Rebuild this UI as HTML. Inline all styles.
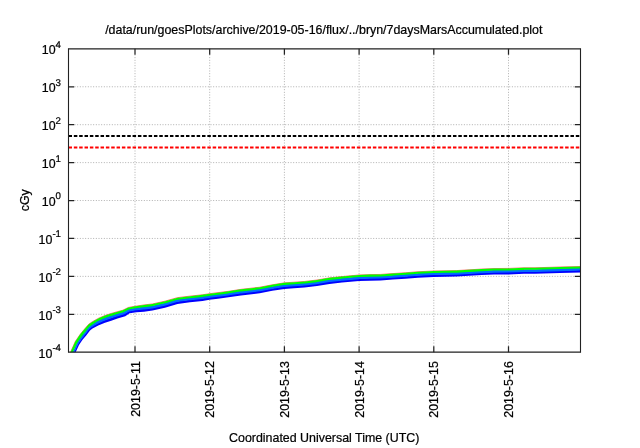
<!DOCTYPE html>
<html><head><meta charset="utf-8"><title>7daysMarsAccumulated</title>
<style>html,body{margin:0;padding:0;background:#fff}svg{display:block}</style></head>
<body>
<svg width="640" height="448" viewBox="0 0 640 448" font-family="'Liberation Sans', Arial, Helvetica, sans-serif" font-size="12.4" fill="#000">
<style>text{stroke:#000;stroke-width:0.22px;paint-order:stroke}</style>
<rect width="640" height="448" fill="#fff"/>
<defs><clipPath id="c"><rect x="68.5" y="48.85" width="512.0" height="303.34999999999997"/></clipPath></defs>
<g stroke="#b0b0b0" stroke-width="1" stroke-dasharray="1 1.667" fill="none">
<path d="M74.5,86.77 H574.5"/>
<path d="M74.5,124.69 H574.5"/>
<path d="M74.5,162.61 H574.5"/>
<path d="M74.5,200.52 H574.5"/>
<path d="M74.5,238.44 H574.5"/>
<path d="M74.5,276.36 H574.5"/>
<path d="M74.5,314.28 H574.5"/>
<path d="M135.00,346.2 V54.85"/>
<path d="M209.70,346.2 V54.85"/>
<path d="M284.40,346.2 V54.85"/>
<path d="M359.10,346.2 V54.85"/>
<path d="M433.80,346.2 V54.85"/>
<path d="M508.50,346.2 V54.85"/>
</g>
<path d="M68.5,136.10 H580.5" stroke="#000" stroke-width="2" stroke-dasharray="3.5 1.84" fill="none"/>
<path d="M68.5,147.52 H580.5" stroke="#ff0000" stroke-width="2" stroke-dasharray="3.5 1.84" fill="none"/>
<g clip-path="url(#c)" stroke="none">
<path d="M66.77,360.50 L70.75,351.65 L73.40,345.75 L75.40,341.35 L76.50,339.75 L80.00,334.60 L83.75,329.95 L88.75,324.20 L92.50,321.64 L98.75,318.15 L105.00,315.53 L111.25,313.45 L117.50,311.66 L122.75,310.26 L128.40,307.45 L135.25,306.28 L144.00,304.94 L152.50,303.94 L165.00,301.17 L177.50,297.63 L190.00,296.13 L202.50,294.79 L209.50,293.73 L218.00,292.64 L228.50,291.31 L241.00,289.35 L259.75,287.21 L272.25,284.83 L284.40,282.84 L294.00,282.23 L304.50,281.47 L317.00,280.02 L329.50,277.86 L342.00,276.58 L359.00,275.01 L370.00,274.61 L380.50,274.44 L393.00,273.57 L405.50,272.75 L418.00,271.75 L433.50,271.00 L446.00,270.75 L456.50,270.58 L469.00,269.83 L481.50,269.08 L494.00,268.56 L508.50,268.41 L524.00,267.82 L535.00,267.79 L560.00,267.02 L580.50,266.48 L586.50,266.33" fill="none" stroke="#ff0000" stroke-width="0.55"/>
<path d="M70.13,360.53 L70.23,360.32 L73.91,352.44 L74.83,350.47 L76.64,346.58 L77.90,343.90 L78.57,342.76 L79.65,341.15 L80.46,339.94 L81.72,338.05 L82.99,336.46 L85.33,333.63 L86.91,331.62 L88.97,328.80 L91.23,326.89 L91.27,326.80 L94.52,324.86 L97.79,322.93 L100.47,321.69 L104.17,320.13 L106.53,319.25 L110.56,317.88 L112.72,317.15 L116.92,315.82 L118.80,315.26 L119.46,315.07 L124.45,313.60 L125.12,313.16 L128.77,310.97 L129.22,310.75 L135.90,309.67 L136.21,309.62 L143.68,308.87 L144.58,308.74 L152.25,307.77 L153.47,307.52 L164.56,305.03 L166.25,304.55 L176.97,301.34 L178.04,301.13 L189.77,299.65 L190.46,299.58 L202.29,298.27 L203.14,298.15 L209.21,297.21 L210.04,297.09 L217.75,296.07 L218.51,295.98 L228.26,294.74 L229.13,294.62 L240.71,292.81 L241.46,292.71 L259.53,290.64 L260.50,290.47 L271.90,288.31 L272.91,288.13 L284.09,286.30 L284.66,286.23 L293.88,285.65 L294.30,285.62 L304.36,284.89 L304.97,284.82 L316.78,283.46 L317.69,283.31 L329.17,281.32 L329.91,281.22 L341.81,280.01 L342.38,279.96 L358.82,278.44 L359.15,278.41 L369.93,278.02 L370.07,278.02 L380.47,277.85 L380.79,277.83 L392.87,276.98 L393.27,276.96 L405.37,276.16 L405.83,276.13 L417.85,275.17 L418.20,275.15 L433.41,274.41 L433.58,274.41 L445.96,274.16 L446.07,274.16 L456.47,273.99 L456.74,273.97 L468.88,273.25 L469.24,273.22 L481.38,272.50 L481.67,272.48 L493.92,271.97 L494.04,271.97 L508.48,271.82 L508.66,271.81 L523.93,271.23 L524.01,271.22 L535.00,271.20 L535.13,271.20 L559.94,270.43 L560.11,270.43 L580.45,269.89 L580.60,269.88 L586.45,269.73 L586.50,269.73 L586.50,272.37 L580.50,272.52 L560.00,273.06 L535.00,273.83 L524.00,273.86 L508.50,274.45 L494.00,274.60 L481.50,275.12 L469.00,275.87 L456.50,276.62 L446.00,276.79 L433.50,277.04 L418.00,277.79 L405.50,278.79 L393.00,279.61 L380.50,280.48 L370.00,280.65 L359.00,281.05 L342.00,282.62 L329.50,283.90 L317.00,286.06 L304.50,287.51 L294.00,288.27 L284.40,288.88 L272.25,290.87 L259.75,293.25 L241.00,295.39 L228.50,297.35 L218.00,298.68 L209.50,299.81 L202.50,300.91 L190.00,302.30 L177.50,303.90 L165.00,307.73 L152.50,310.56 L144.00,311.67 L136.50,312.25 L129.60,313.34 L125.25,316.20 L120.00,317.81 L117.50,318.56 L111.25,320.65 L105.00,322.81 L98.75,325.35 L92.50,328.57 L90.00,330.40 L86.40,335.19 L82.75,339.45 L81.50,341.35 L79.00,345.10 L75.90,351.65 L71.25,361.48Z" fill="#0000ff"/>
<path d="M68.83,360.25 L69.04,359.78 L72.69,351.87 L73.59,349.91 L75.39,345.99 L76.63,343.32 L77.34,341.95 L78.43,340.34 L79.25,339.12 L80.52,337.23 L81.83,335.47 L84.10,332.64 L85.69,330.70 L87.81,327.79 L89.92,325.63 L90.21,325.49 L93.63,323.13 L96.76,321.08 L99.63,319.61 L103.29,318.02 L105.76,317.04 L109.83,315.67 L111.99,314.95 L116.30,313.65 L118.15,313.11 L118.88,312.91 L123.60,311.58 L123.93,311.36 L127.89,309.21 L128.81,308.75 L135.57,307.63 L135.89,307.58 L143.34,306.63 L144.29,306.49 L151.99,305.55 L152.99,305.38 L164.09,302.90 L165.63,302.51 L176.41,299.37 L177.77,299.03 L189.52,297.59 L190.23,297.50 L202.07,296.21 L202.82,296.12 L208.91,295.19 L209.77,295.06 L217.49,294.05 L218.26,293.96 L228.00,292.72 L228.81,292.61 L240.39,290.80 L241.23,290.68 L259.30,288.61 L260.13,288.49 L271.52,286.33 L272.58,286.13 L283.76,284.30 L284.53,284.18 L293.75,283.60 L294.15,283.57 L304.21,282.84 L304.73,282.80 L316.54,281.43 L317.35,281.32 L328.83,279.33 L329.71,279.19 L341.60,277.98 L342.19,277.92 L358.63,276.40 L359.07,276.36 L369.86,275.97 L370.03,275.97 L380.43,275.80 L380.64,275.78 L392.72,274.94 L393.13,274.91 L405.24,274.12 L405.66,274.09 L417.68,273.13 L418.10,273.10 L433.31,272.36 L433.54,272.35 L445.92,272.11 L446.03,272.11 L456.43,271.93 L456.62,271.93 L468.76,271.20 L469.12,271.18 L481.26,270.45 L481.59,270.43 L493.83,269.92 L494.02,269.91 L508.46,269.77 L508.58,269.76 L523.85,269.18 L524.00,269.17 L534.99,269.15 L535.06,269.15 L559.88,268.38 L560.05,268.37 L580.39,267.83 L580.55,267.83 L586.40,267.68 L586.50,267.68 L586.50,270.43 L586.45,270.43 L580.60,270.58 L580.45,270.59 L560.11,271.13 L559.94,271.13 L535.13,271.90 L535.00,271.90 L524.01,271.92 L523.93,271.93 L508.66,272.51 L508.48,272.52 L494.04,272.67 L493.92,272.67 L481.67,273.18 L481.38,273.20 L469.24,273.92 L468.88,273.95 L456.74,274.67 L456.47,274.69 L446.07,274.86 L445.96,274.86 L433.58,275.11 L433.41,275.11 L418.20,275.85 L417.85,275.87 L405.83,276.83 L405.37,276.86 L393.27,277.66 L392.87,277.68 L380.79,278.53 L380.47,278.55 L370.07,278.72 L369.93,278.72 L359.15,279.11 L358.82,279.14 L342.38,280.66 L341.81,280.71 L329.91,281.92 L329.17,282.02 L317.69,284.01 L316.78,284.16 L304.97,285.52 L304.36,285.59 L294.30,286.32 L293.88,286.35 L284.66,286.93 L284.09,287.00 L272.91,288.83 L271.90,289.01 L260.50,291.17 L259.53,291.34 L241.46,293.41 L240.71,293.51 L229.13,295.32 L228.26,295.44 L218.51,296.68 L217.75,296.77 L210.04,297.79 L209.21,297.91 L203.14,298.85 L202.29,298.97 L190.46,300.28 L189.77,300.35 L178.04,301.83 L176.97,302.04 L166.25,305.25 L164.56,305.73 L153.47,308.22 L152.25,308.47 L144.58,309.44 L143.68,309.57 L136.21,310.32 L135.90,310.37 L129.22,311.45 L128.77,311.67 L125.12,313.86 L124.45,314.30 L119.46,315.77 L118.80,315.96 L116.92,316.52 L112.72,317.85 L110.56,318.58 L106.53,319.95 L104.17,320.83 L100.47,322.39 L97.79,323.63 L94.52,325.56 L91.27,327.50 L91.23,327.59 L88.97,329.50 L86.91,332.32 L85.33,334.33 L82.99,337.16 L81.72,338.75 L80.46,340.64 L79.65,341.85 L78.57,343.46 L77.90,344.60 L76.64,347.28 L74.83,351.17 L73.91,353.14 L70.23,361.02 L70.13,361.23Z" fill="#006cff"/>
<path d="M66.77,360.50 L70.75,351.65 L73.40,345.75 L75.40,341.35 L76.50,339.75 L80.00,334.60 L83.75,329.95 L88.75,324.20 L92.50,321.64 L98.75,318.15 L105.00,315.53 L111.25,313.45 L117.50,311.66 L122.75,310.26 L128.40,307.45 L135.25,306.28 L144.00,304.94 L152.50,303.94 L165.00,301.17 L177.50,297.63 L190.00,296.13 L202.50,294.79 L209.50,293.73 L218.00,292.64 L228.50,291.31 L241.00,289.35 L259.75,287.21 L272.25,284.83 L284.40,282.84 L294.00,282.23 L304.50,281.47 L317.00,280.02 L329.50,277.86 L342.00,276.58 L359.00,275.01 L370.00,274.61 L380.50,274.44 L393.00,273.57 L405.50,272.75 L418.00,271.75 L433.50,271.00 L446.00,270.75 L456.50,270.58 L469.00,269.83 L481.50,269.08 L494.00,268.56 L508.50,268.41 L524.00,267.82 L535.00,267.79 L560.00,267.02 L580.50,266.48 L586.50,266.33 L586.50,268.38 L586.40,268.38 L580.55,268.53 L580.39,268.53 L560.05,269.07 L559.88,269.08 L535.06,269.85 L534.99,269.85 L524.00,269.87 L523.85,269.88 L508.58,270.46 L508.46,270.47 L494.02,270.61 L493.83,270.62 L481.59,271.13 L481.26,271.15 L469.12,271.88 L468.76,271.90 L456.62,272.63 L456.43,272.63 L446.03,272.81 L445.92,272.81 L433.54,273.05 L433.31,273.06 L418.10,273.80 L417.68,273.83 L405.66,274.79 L405.24,274.82 L393.13,275.61 L392.72,275.64 L380.64,276.48 L380.43,276.50 L370.03,276.67 L369.86,276.67 L359.07,277.06 L358.63,277.10 L342.19,278.62 L341.60,278.68 L329.71,279.89 L328.83,280.03 L317.35,282.02 L316.54,282.13 L304.73,283.50 L304.21,283.54 L294.15,284.27 L293.75,284.30 L284.53,284.88 L283.76,285.00 L272.58,286.83 L271.52,287.03 L260.13,289.19 L259.30,289.31 L241.23,291.38 L240.39,291.50 L228.81,293.31 L228.00,293.42 L218.26,294.66 L217.49,294.75 L209.77,295.76 L208.91,295.89 L202.82,296.82 L202.07,296.91 L190.23,298.20 L189.52,298.29 L177.77,299.73 L176.41,300.07 L165.63,303.21 L164.09,303.60 L152.99,306.08 L151.99,306.25 L144.29,307.19 L143.34,307.33 L135.89,308.28 L135.57,308.33 L128.81,309.45 L127.89,309.91 L123.93,312.06 L123.60,312.28 L118.88,313.61 L118.15,313.81 L116.30,314.35 L111.99,315.65 L109.83,316.37 L105.76,317.74 L103.29,318.72 L99.63,320.31 L96.76,321.78 L93.63,323.83 L90.21,326.19 L89.92,326.33 L87.81,328.49 L85.69,331.40 L84.10,333.34 L81.83,336.17 L80.52,337.93 L79.25,339.82 L78.43,341.04 L77.34,342.65 L76.63,344.02 L75.39,346.69 L73.59,350.61 L72.69,352.57 L69.04,360.48 L68.83,360.95Z" fill="#00ff00"/>
</g>
<g stroke="#222" stroke-width="1.25" fill="none">
<path d="M67.95,48.85 H581.05 M67.95,352.2 H581.05"/>
<path d="M68.5,48.85 V352.2 M580.5,48.85 V352.2" stroke-width="1.1"/>
<path d="M68.5,86.77 h5.7 M580.5,86.77 h-5.7"/>
<path d="M68.5,124.69 h5.7 M580.5,124.69 h-5.7"/>
<path d="M68.5,162.61 h5.7 M580.5,162.61 h-5.7"/>
<path d="M68.5,200.52 h5.7 M580.5,200.52 h-5.7"/>
<path d="M68.5,238.44 h5.7 M580.5,238.44 h-5.7"/>
<path d="M68.5,276.36 h5.7 M580.5,276.36 h-5.7"/>
<path d="M68.5,314.28 h5.7 M580.5,314.28 h-5.7"/>
<path d="M135.00,352.2 v-5.9 M135.00,48.85 v5.9"/>
<path d="M209.70,352.2 v-5.9 M209.70,48.85 v5.9"/>
<path d="M284.40,352.2 v-5.9 M284.40,48.85 v5.9"/>
<path d="M359.10,352.2 v-5.9 M359.10,48.85 v5.9"/>
<path d="M433.80,352.2 v-5.9 M433.80,48.85 v5.9"/>
<path d="M508.50,352.2 v-5.9 M508.50,48.85 v5.9"/>
</g>
<text x="61" y="54.15" text-anchor="end">10<tspan font-size="9.7" dy="-6.4" style="text-rendering:geometricPrecision">4</tspan></text>
<text x="61" y="92.07" text-anchor="end">10<tspan font-size="9.7" dy="-6.4" style="text-rendering:geometricPrecision">3</tspan></text>
<text x="61" y="129.99" text-anchor="end">10<tspan font-size="9.7" dy="-6.4" style="text-rendering:geometricPrecision">2</tspan></text>
<text x="61" y="167.91" text-anchor="end">10<tspan font-size="9.7" dy="-6.4" style="text-rendering:geometricPrecision">1</tspan></text>
<text x="61" y="205.82" text-anchor="end">10<tspan font-size="9.7" dy="-6.4" style="text-rendering:geometricPrecision">0</tspan></text>
<text x="61" y="243.74" text-anchor="end">10<tspan font-size="9.7" dy="-6.4" style="text-rendering:geometricPrecision">-1</tspan></text>
<text x="61" y="281.66" text-anchor="end">10<tspan font-size="9.7" dy="-6.4" style="text-rendering:geometricPrecision">-2</tspan></text>
<text x="61" y="319.58" text-anchor="end">10<tspan font-size="9.7" dy="-6.4" style="text-rendering:geometricPrecision">-3</tspan></text>
<text x="61" y="357.50" text-anchor="end">10<tspan font-size="9.7" dy="-6.4" style="text-rendering:geometricPrecision">-4</tspan></text>
<text transform="translate(139.50,361.2) rotate(-90)" text-anchor="end">2019-5-11</text>
<text transform="translate(214.20,361.2) rotate(-90)" text-anchor="end">2019-5-12</text>
<text transform="translate(288.90,361.2) rotate(-90)" text-anchor="end">2019-5-13</text>
<text transform="translate(363.60,361.2) rotate(-90)" text-anchor="end">2019-5-14</text>
<text transform="translate(438.30,361.2) rotate(-90)" text-anchor="end">2019-5-15</text>
<text transform="translate(513.00,361.2) rotate(-90)" text-anchor="end">2019-5-16</text>
<text transform="translate(29.2,200.3) rotate(-90)" text-anchor="middle">cGy</text>
<text x="323.8" y="33.9" text-anchor="middle" textLength="437.3" lengthAdjust="spacingAndGlyphs">/data/run/goesPlots/archive/2019-05-16/flux/../bryn/7daysMarsAccumulated.plot</text>
<text x="324.2" y="442.2" text-anchor="middle" textLength="190.3" lengthAdjust="spacingAndGlyphs">Coordinated Universal Time (UTC)</text>
</svg>
</body></html>
